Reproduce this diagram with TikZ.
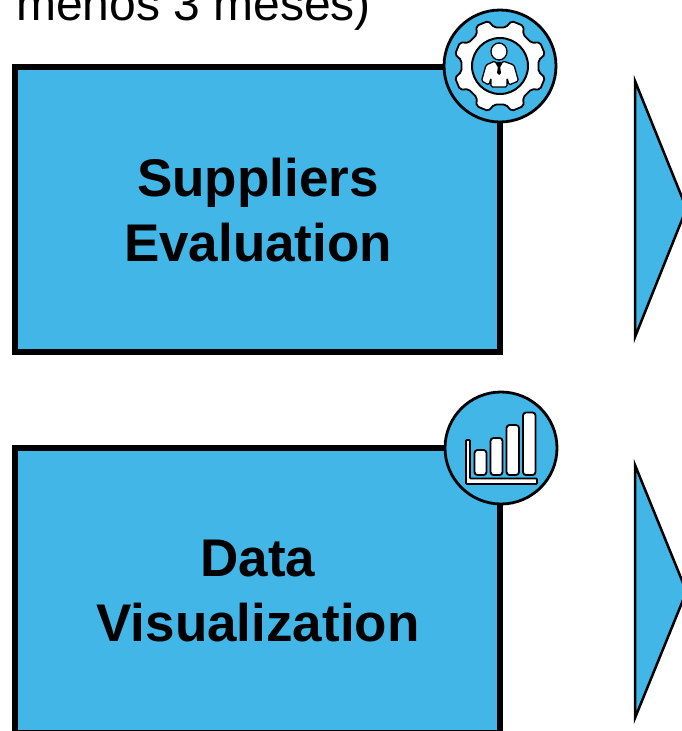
\documentclass[tikz,border=0pt]{standalone}
\usepackage{fontspec}
\setmainfont{Liberation Sans}
\definecolor{skyfill}{HTML}{41B6E7}
\tikzset{
  stagebox/.style={draw=black,line width=6pt,fill=skyfill,minimum width=485pt,minimum height=285pt,inner sep=0pt},
  stagelabel/.style={inner sep=0pt,align=center,font=\fontsize{53}{64.7}\selectfont\bfseries},
  chevron/.style={draw=black,line width=2.5pt,fill=skyfill,line join=miter},
  badge/.style={draw=black,line width=2.8pt,fill=skyfill,circle,minimum size=112pt,inner sep=0pt},
  whiteshape/.style={draw=black,line width=1.8pt,fill=white},
  topnote/.style={inner sep=0pt,anchor=base west,font=\fontsize{48}{56}\selectfont}
}
\begin{document}
\begin{tikzpicture}[x=1pt,y=-1pt]
\useasboundingbox (0,0) rectangle (682,731);
\clip (0,0) rectangle (682,731);
\node[topnote] (note) at (16,20) {menos 3 meses)};
% boxes
\node[stagebox] (evalbox) at (257.5,209.5) {};
\node[stagelabel] (evallabel) at (258,210) {Suppliers\\Evaluation};
\node[stagebox] (vizbox) at (257.5,590.5) {};
\node[stagelabel] (vizlabel) at (258,591) {Data\\Visualization};
% chevrons
\draw[chevron] (635,81) -- (686.5,208.5) -- (635,337) -- cycle;
\draw[chevron] (635,465) -- (686.5,591.5) -- (635,718) -- cycle;
% gear badge
\node[badge] (gearbadge) at (500,66) {};
\begin{scope}[shift={(500,66)}]
  \draw[whiteshape,rounded corners=2pt]
    (8.5:39)
    \foreach \a in {22.5,67.5,...,337.5} {
      -- (\a-14:39) -- (\a-8:46.5) -- (\a+8:46.5) -- (\a+14:39)
    } -- cycle;
  \fill[skyfill,draw=black,line width=2pt] (0,0) circle (28);
  % person
  \draw[whiteshape,line width=1.3pt] (-1,-14.5) ellipse (8 and 8.5);
  \draw[whiteshape,line width=1.3pt,rounded corners=1.5pt]
    (-5,-5) -- (-14,-1) -- (-18.5,15) -- (-11,19) -- (-9,12) -- (-9,21) -- (7,21) -- (7,12) -- (9,19) -- (18.5,15) -- (14,-1) -- (3,-5) -- (-1,2) -- cycle;
  \fill[black] (-3.5,-4) -- (1.5,-4) -- (0,0) -- (1,7) -- (-1,9) -- (-3,7) -- (-2,0) -- cycle;
\end{scope}
% chart badge
\node[badge] (chartbadge) at (501,448) {};
\foreach \xa/\xb/\yt in {474.5/486.5/450,490.5/502.5/438,506.5/519/425,523/535.5/412.5}
  \draw[whiteshape,rounded corners=3pt] (\xa,\yt) rectangle (\xb,475);
\draw[whiteshape,rounded corners=0.8pt] (466,440) -- (470,440) -- (470,478.5) -- (537,478.5) -- (537,484) -- (466,484) -- cycle;
\end{tikzpicture}
\end{document}
